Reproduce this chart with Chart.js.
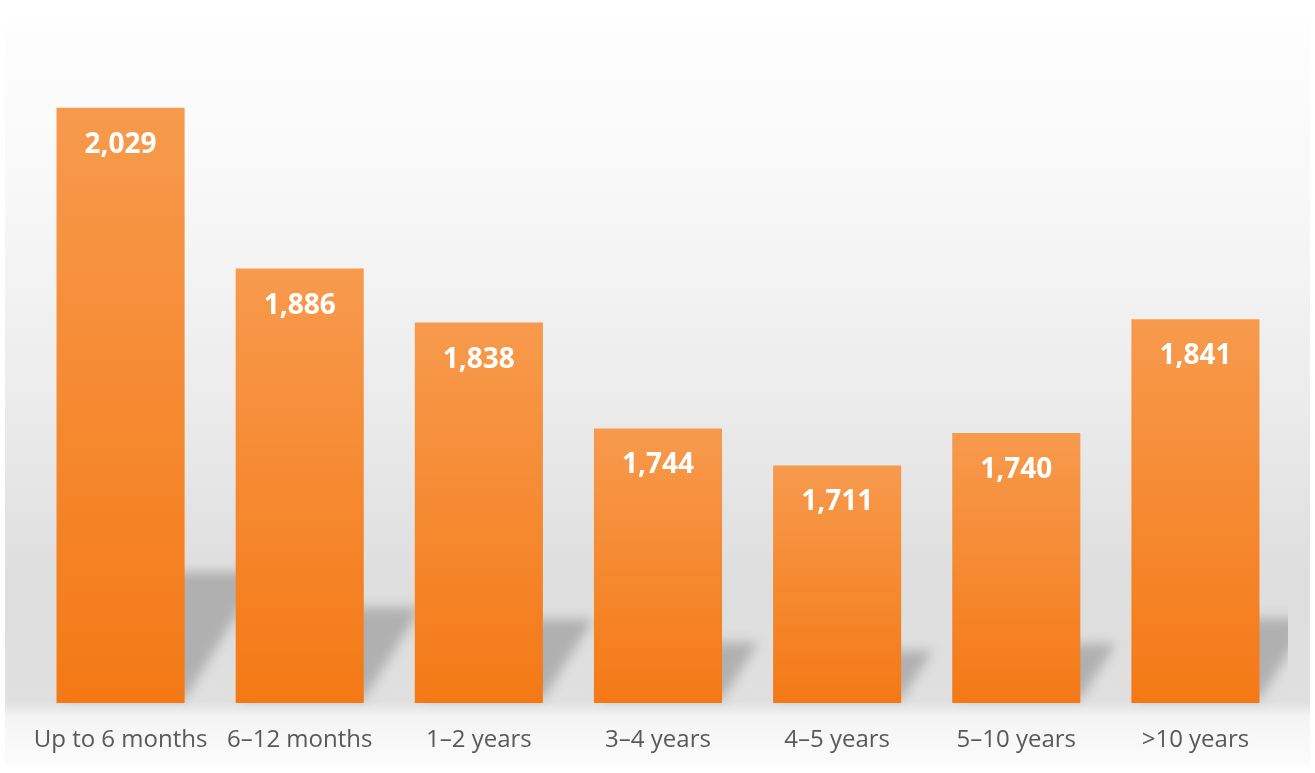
<!DOCTYPE html>
<html>
<head>
<meta charset="utf-8">
<script src="https://cdn.jsdelivr.net/npm/chart.js@4/dist/chart.umd.min.js"></script>
<style>
  html, body { margin: 0; padding: 0; background: #ffffff; }
  #wrap { width: 1315px; height: 773px; position: relative; }
</style>
</head>
<body>
<div id="wrap"><canvas id="barChart" width="1315" height="773"></canvas></div>
<script>
const categorias = ['Up to 6 months', '6\u201312 months', '1\u20132 years', '3\u20134 years', '4\u20135 years', '5\u201310 years', '>10 years'];
const valores = [2029, 1886, 1838, 1744, 1711, 1740, 1841];
const ejeMin = 1500;
const ejeMax = 2050;

let gradientes = [];

function dibujarSombras(chart) {
    const ctx = chart.ctx;
    const xs = chart.scales.x;
    const ys = chart.scales.y;
    const ancho = (xs.getPixelForValue(1) - xs.getPixelForValue(0)) * 0.715;
    const B = ys.getPixelForValue(ejeMin);
    ctx.save();
    ctx.beginPath();
    ctx.rect(5, 20, 1283, 745);
    ctx.clip();
    ctx.filter = 'blur(6px)';
    ctx.fillStyle = 'rgba(160,160,160,0.75)';
    valores.forEach((v, i) => {
        const xc = xs.getPixelForValue(i);
        const L = xc - ancho / 2;
        const R = xc + ancho / 2;
        const h = (B - ys.getPixelForValue(v)) * 0.22;
        const dx = h * 0.6;
        ctx.beginPath();
        ctx.moveTo(L + 6, B - 4);
        ctx.lineTo(R, B - 4);
        ctx.lineTo(R + dx, B - h);
        ctx.lineTo(L + dx, B - h);
        ctx.closePath();
        ctx.fill();
    });
    ctx.restore();
}

// fondo gris con degradado y sombras de las barras
const fondoPlugin = {
    id: 'fondo',
    beforeDraw(chart) {
        const ctx = chart.ctx;
        const g = ctx.createLinearGradient(0, 20, 0, 765);
        g.addColorStop(0, '#fefefe');
        g.addColorStop(0.25, '#f7f7f7');
        g.addColorStop(0.52, '#ebebeb');
        g.addColorStop(0.75, '#dedede');
        g.addColorStop(0.915, '#e0e0e0');
        g.addColorStop(0.935, '#f4f4f4');
        g.addColorStop(1, '#fcfcfc');
        ctx.save();
        ctx.fillStyle = g;
        ctx.fillRect(5, 20, 1305, 745);
        ctx.restore();
        dibujarSombras(chart);
    },
    afterLayout(chart) {
        const ctx = chart.ctx;
        const y = chart.scales.y;
        gradientes = valores.map(v => {
            const top = y.getPixelForValue(v);
            const bottom = y.getPixelForValue(ejeMin);
            const g = ctx.createLinearGradient(0, top, 0, bottom);
            g.addColorStop(0, '#f79a4d');
            g.addColorStop(1, '#f47915');
            return g;
        });
    }
};

// etiquetas blancas dentro de las barras
const etiquetasPlugin = {
    id: 'etiquetas',
    afterDatasetsDraw(chart) {
        const ctx = chart.ctx;
        const meta = chart.getDatasetMeta(0);
        ctx.save();
        ctx.font = 'bold 28px "Open Sans"';
        ctx.fillStyle = '#ffffff';
        ctx.textAlign = 'center';
        ctx.textBaseline = 'middle';
        meta.data.forEach((bar, i) => {
            ctx.fillText(valores[i].toLocaleString('en-US'), bar.x, bar.y + 37);
        });
        ctx.restore();
    }
};

const ctxBar = document.getElementById('barChart').getContext('2d');

const barChart = new Chart(ctxBar, {
    type: 'bar',
    data: {
        labels: categorias,
        datasets: [{
            label: 'Valor',
            data: valores,
            backgroundColor: (c) => gradientes[c.dataIndex] || '#f58a30',
            borderWidth: 0,
            barPercentage: 0.715,
            categoryPercentage: 1
        }]
    },
    options: {
        responsive: false,
        animation: false,
        layout: {
            padding: { left: 31, right: 30, top: 84, bottom: 0 }
        },
        plugins: {
            legend: { display: false },
            tooltip: { enabled: false },
            title: { display: false }
        },
        scales: {
            x: {
                grid: { display: false },
                border: { display: false },
                afterFit(scale) { scale.height = 70; },
                ticks: {
                    color: '#595959',
                    padding: 15,
                    maxRotation: 0,
                    autoSkip: false,
                    font: { family: '"Open Sans"', size: 24 }
                }
            },
            y: {
                display: false,
                min: ejeMin,
                max: ejeMax
            }
        }
    },
    plugins: [fondoPlugin, etiquetasPlugin]
});
</script>
</body>
</html>
